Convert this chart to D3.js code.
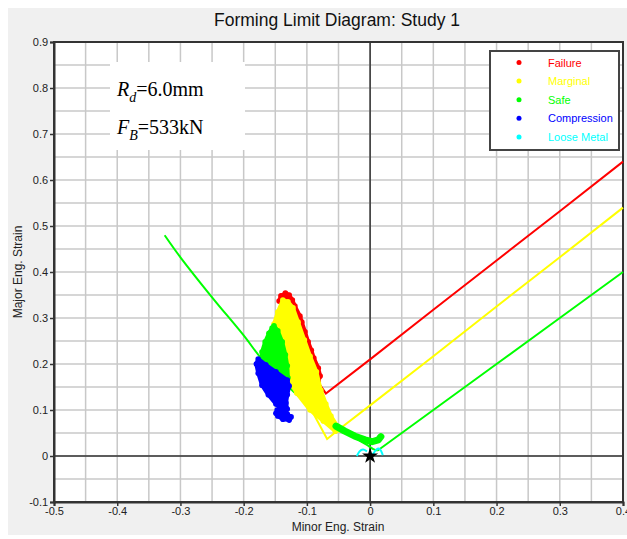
<!DOCTYPE html>
<html>
<head>
<meta charset="utf-8">
<script src="https://cdn.jsdelivr.net/npm/d3@7"></script>
<style>
  body { margin: 0; background: #fff; }
  svg text { font-family: "Liberation Sans", Arial, sans-serif; }
</style>
</head>
<body>
<div id="chart"></div>
<script>
const xTicks = [-0.5, -0.4, -0.3, -0.2, -0.1, 0, 0.1, 0.2, 0.3, 0.4];
const yTicks = [-0.1, 0, 0.1, 0.2, 0.3, 0.4, 0.5, 0.6, 0.7, 0.8, 0.9];
const gridStep = 0.05;

// forming limit curves
const failureCurve = [[-0.082, 0.160], [-0.070, 0.136], [0, 0.21], [0.1, 0.318], [0.2, 0.425], [0.3, 0.532], [0.4, 0.64]];
const marginalCurve = [[-0.090, 0.093], [-0.068, 0.037], [-0.05, 0.057], [0, 0.11], [0.1, 0.217], [0.2, 0.325], [0.3, 0.432], [0.4, 0.54]];
const safeCurveLeft = [[-0.325, 0.48], [-0.3, 0.432], [-0.25, 0.345], [-0.2, 0.262], [-0.174, 0.215], [-0.15, 0.178],
  [-0.125, 0.145], [-0.103, 0.117], [-0.075, 0.088], [-0.053, 0.065], [-0.03, 0.045], [-0.005, 0.024], [0.005, 0.015], [0.012, 0.012]];
const safeCurveRight = [[0.012, 0.012], [0.1, 0.1], [0.2, 0.2], [0.3, 0.3], [0.4, 0.4]];

// measured point clouds (outlines of the dense scatter)
const failurePts = [[-0.144, 0.337], [-0.141, 0.348], [-0.134, 0.354], [-0.128, 0.350], [-0.123, 0.339], [-0.119, 0.326],
  [-0.111, 0.304], [-0.108, 0.291], [-0.103, 0.270], [-0.098, 0.248], [-0.093, 0.230], [-0.089, 0.213],
  [-0.082, 0.191], [-0.079, 0.174], [-0.082, 0.161], [-0.092, 0.187], [-0.111, 0.252], [-0.130, 0.317], [-0.139, 0.330]];
const marginalPts = [[-0.138, 0.339], [-0.130, 0.335], [-0.122, 0.322], [-0.114, 0.291], [-0.104, 0.252], [-0.095, 0.217],
  [-0.085, 0.183], [-0.078, 0.143], [-0.070, 0.113], [-0.062, 0.087], [-0.052, 0.065], [-0.049, 0.057],
  [-0.055, 0.054], [-0.074, 0.076], [-0.095, 0.100], [-0.116, 0.137], [-0.128, 0.165], [-0.134, 0.209],
  [-0.142, 0.252], [-0.152, 0.287], [-0.146, 0.313]];
const safePts = [[-0.152, 0.283], [-0.146, 0.272], [-0.139, 0.248], [-0.134, 0.220], [-0.131, 0.196], [-0.130, 0.170],
  [-0.133, 0.161], [-0.146, 0.174], [-0.161, 0.191], [-0.172, 0.209], [-0.171, 0.226], [-0.166, 0.248],
  [-0.160, 0.267], [-0.155, 0.278]];
const safeBand = [[-0.054, 0.065], [-0.040, 0.054], [-0.024, 0.043], [-0.008, 0.035], [0.003, 0.031], [0.013, 0.035], [0.017, 0.042]];
const compressionPts = [[-0.177, 0.211], [-0.165, 0.198], [-0.149, 0.183], [-0.131, 0.165], [-0.128, 0.152], [-0.131, 0.133],
  [-0.133, 0.115], [-0.131, 0.102], [-0.138, 0.098], [-0.149, 0.113], [-0.161, 0.133], [-0.171, 0.154],
  [-0.177, 0.180], [-0.180, 0.200]];
const compressionPts2 = [[-0.147, 0.100], [-0.139, 0.098], [-0.131, 0.091], [-0.125, 0.085], [-0.128, 0.078],
  [-0.138, 0.080], [-0.146, 0.087], [-0.149, 0.093]];
const looseLeft = [[-0.021, 0.0], [-0.017, 0.011], [-0.011, 0.016], [-0.005, 0.010]];
const looseRight = [[0.004, 0.003], [0.010, 0.016], [0.016, 0.017], [0.020, 0.002]];

const legendLabels = ["Failure", "Marginal", "Safe", "Compression", "Loose Metal"];
const legendColors = ["#ff0000", "#ffff00", "#00ff00", "#0000ff", "#00ffff"];

const width = 627, height = 539;
const svg = d3.select("#chart").append("svg").attr("width", width).attr("height", height);

svg.append("rect").attr("x", 8).attr("y", 8).attr("width", width - 8).attr("height", 527).attr("fill", "#f0f0f0");

const x = d3.scaleLinear().domain([-0.5, 0.4]).range([54, 623]);
const y = d3.scaleLinear().domain([-0.1, 0.9]).range([502, 42]);

svg.append("rect").attr("x", x(-0.5)).attr("y", y(0.9))
  .attr("width", x(0.4) - x(-0.5)).attr("height", y(-0.1) - y(0.9)).attr("fill", "#fff");

// grid
const gx = d3.range(-0.5, 0.4001, gridStep), gy = d3.range(-0.1, 0.9001, gridStep);
svg.append("g").selectAll("line").data(gx).join("line")
  .attr("x1", d => x(d)).attr("x2", d => x(d)).attr("y1", y(0.9)).attr("y2", y(-0.1))
  .attr("stroke", "#c8c8c8").attr("stroke-width", 1.5);
svg.append("g").selectAll("line").data(gy).join("line")
  .attr("y1", d => y(d)).attr("y2", d => y(d)).attr("x1", x(-0.5)).attr("x2", x(0.4))
  .attr("stroke", "#c8c8c8").attr("stroke-width", 1.5);

// annotation box
const note = svg.append("g");
note.append("rect").attr("x", 110).attr("y", 62).attr("width", 135).attr("height", 88).attr("fill", "#fff");
const t1 = note.append("text").attr("x", 117).attr("y", 96).style("font-family", "'Liberation Serif', serif").style("font-size", "20px");
t1.append("tspan").style("font-style", "italic").text("R");
t1.append("tspan").style("font-style", "italic").style("font-size", "14px").attr("dy", 6).text("d");
t1.append("tspan").attr("dy", -6).text("=6.0mm");
const t2 = note.append("text").attr("x", 117).attr("y", 134).style("font-family", "'Liberation Serif', serif").style("font-size", "20px");
t2.append("tspan").style("font-style", "italic").text("F");
t2.append("tspan").style("font-style", "italic").style("font-size", "14px").attr("dy", 6).text("B");
t2.append("tspan").attr("dy", -6).text("=533kN");

// zero lines
svg.append("line").attr("x1", x(0)).attr("x2", x(0)).attr("y1", y(0.9)).attr("y2", y(-0.1)).attr("stroke", "#333").attr("stroke-width", 1.5);
svg.append("line").attr("y1", y(0)).attr("y2", y(0)).attr("x1", x(-0.5)).attr("x2", x(0.4)).attr("stroke", "#333").attr("stroke-width", 1.5);

// axes
const fmt = d => String(+d.toFixed(1));
const xAxis = svg.append("g").attr("transform", `translate(0,${y(-0.1)})`)
  .call(d3.axisBottom(x).tickValues(xTicks).tickSize(4).tickFormat(fmt));
const yAxis = svg.append("g").attr("transform", `translate(${x(-0.5)},0)`)
  .call(d3.axisLeft(y).tickValues(yTicks).tickSize(4).tickFormat(fmt));
[xAxis, yAxis].forEach(a => {
  a.select(".domain").attr("stroke", "#333").attr("stroke-width", 2);
  a.selectAll(".tick line").attr("stroke", "#333").attr("stroke-width", 1.5);
  a.selectAll("text").style("font-size", "11px").attr("fill", "#222");
});
xAxis.selectAll("text").attr("y", 5);
yAxis.selectAll("text").attr("dx", "0.1em");
svg.append("rect").attr("x", x(-0.5)).attr("y", y(0.9))
  .attr("width", x(0.4) - x(-0.5)).attr("height", y(-0.1) - y(0.9))
  .attr("fill", "none").attr("stroke", "#333").attr("stroke-width", 2);

const line = d3.line().x(d => x(d[0])).y(d => y(d[1]));
const plot = svg.append("g");

function cloud(pts, color) {
  plot.append("path").datum(pts).attr("d", line.curve(d3.curveLinearClosed))
    .attr("fill", color).attr("stroke", color).attr("stroke-width", 4).attr("stroke-linejoin", "round");
  plot.append("g").selectAll("circle").data(pts).join("circle")
    .attr("cx", d => x(d[0])).attr("cy", d => y(d[1])).attr("r", 2.8).attr("fill", color);
  line.curve(d3.curveLinear);
}

// curves
plot.append("path").datum(safeCurveLeft).attr("d", line.curve(d3.curveCatmullRom)).attr("fill", "none").attr("stroke", "#00ff00").attr("stroke-width", 2);
line.curve(d3.curveLinear);
plot.append("path").datum(safeCurveRight).attr("d", line).attr("fill", "none").attr("stroke", "#00ff00").attr("stroke-width", 2);
plot.append("path").datum(marginalCurve).attr("d", line).attr("fill", "none").attr("stroke", "#ffff00").attr("stroke-width", 2);
plot.append("path").datum(failureCurve).attr("d", line).attr("fill", "none").attr("stroke", "#ff0000").attr("stroke-width", 2);

cloud(failurePts, "#ff0000");
cloud(marginalPts, "#ffff00");
cloud(safePts, "#00ff00");
cloud(compressionPts, "#0000ff");
cloud(compressionPts2, "#0000ff");

plot.append("path").datum(safeBand).attr("d", line).attr("fill", "none").attr("stroke", "#00ff00")
  .attr("stroke-width", 7).attr("stroke-linecap", "round").attr("stroke-linejoin", "round");

[looseLeft, looseRight].forEach(p => {
  plot.append("path").datum(p).attr("d", line.curve(d3.curveBasis)).attr("fill", "none")
    .attr("stroke", "#00ffff").attr("stroke-width", 2);
  line.curve(d3.curveLinear);
});

plot.append("path").attr("d", d3.symbol(d3.symbolStar, 80)())
  .attr("transform", `translate(${x(0)},${y(0)})`).attr("fill", "#000");

// legend
const legend = svg.append("g");
legend.append("rect").attr("x", 490).attr("y", 51).attr("width", 129).attr("height", 99)
  .attr("fill", "#fff").attr("stroke", "#444").attr("stroke-width", 2);
legendLabels.forEach((lab, i) => {
  const ly = 62.5 + i * 18.6;
  legend.append("circle").attr("cx", 519).attr("cy", ly).attr("r", 2.5).attr("fill", legendColors[i]);
  legend.append("text").attr("x", 548).attr("y", ly + 4).style("font-size", "11px")
    .attr("fill", legendColors[i]).text(lab);
});

// titles
svg.append("text").attr("x", 337).attr("y", 26).attr("text-anchor", "middle")
  .style("font-size", "17.5px").attr("fill", "#111").text("Forming Limit Diagram: Study 1");
svg.append("text").attr("x", 338).attr("y", 531).attr("text-anchor", "middle")
  .style("font-size", "12px").attr("fill", "#222").text("Minor Eng. Strain");
svg.append("text").attr("transform", "translate(22,272) rotate(-90)").attr("text-anchor", "middle")
  .style("font-size", "12px").attr("fill", "#222").text("Major Eng. Strain");
</script>
</body>
</html>
